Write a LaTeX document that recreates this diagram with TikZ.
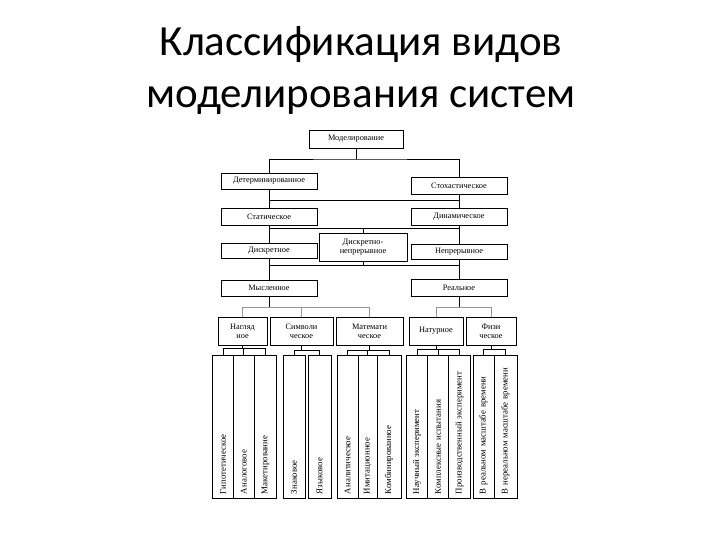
\documentclass[tikz,border=0pt]{standalone}
\usepackage{fontspec}
\setmainfont{Carlito}
\newfontfamily\boxfont{Liberation Serif}
\usetikzlibrary{positioning,calc}
\definecolor{linegray}{RGB}{150,150,150}
\tikzset{
  blk/.style={draw, line width=0.8pt, inner sep=1pt, align=center,
    font=\boxfont\fontsize{8.3}{9.3}\selectfont},
  tallbox/.style={draw, line width=0.8pt, rotate=90, minimum width=143pt,
    text width=135pt, inner xsep=4pt, inner ysep=0pt, align=left,
    font=\boxfont\fontsize{8.8}{9.5}\selectfont},
  wire/.style={line width=0.8pt},
  thinwire/.style={line width=0.7pt, linegray}
}
\begin{document}
\begin{tikzpicture}[x=1pt,y=-1pt]
\useasboundingbox (0,0) rectangle (720,540);
\node[font=\fontsize{43}{52}\selectfont, align=center] (title) at (361,71)
  {Классификация видов\\моделирования систем};

\node[blk, minimum width=94pt, minimum height=18pt] (model) at (356,139) {Моделирование};
\node[blk, minimum width=96pt, minimum height=16pt] (det) at (269,181) {Детерминированное};
\node[blk, minimum width=96pt, minimum height=17pt] (sto) at (459,185.5) {Стохастическое};
\node[blk, minimum width=96pt, minimum height=17pt] (stat) at (269,216.5) {Статическое};
\node[blk, minimum width=96pt, minimum height=17pt] (dyn) at (459,216.5) {Динамическое};
\node[blk, minimum width=96pt, minimum height=15pt] (disc) at (269,250.5) {Дискретное};
\node[blk, minimum width=88pt, minimum height=28pt] (dn) at (363,247) {Дискретно-\\непрерывное};
\node[blk, minimum width=96pt, minimum height=15pt] (cont) at (459,251.5) {Непрерывное};
\node[blk, minimum width=96pt, minimum height=16pt] (ment) at (269,288) {Мысленное};
\node[blk, minimum width=96pt, minimum height=17pt] (real) at (459,287.5) {Реальное};

\node[blk, minimum width=49pt, minimum height=28pt] (vis) at (242.5,331) {Нагляд\\ное};
\node[blk, minimum width=63pt, minimum height=28pt] (sym) at (301.5,331) {Символи\\ческое};
\node[blk, minimum width=67pt, minimum height=28pt] (math) at (369.5,331) {Математи\\ческое};
\node[blk, minimum width=54pt, minimum height=28pt] (nat) at (436,331) {Натурное};
\node[blk, minimum width=50pt, minimum height=28pt] (phys) at (491,331) {Физи\\ческое};

% vertical columns
\node[tallbox, minimum height=20.6pt] (hyp) at (223,426.5) {Гипотетическое};
\node[tallbox, minimum height=21pt] (anl) at (243.8,426.5) {Аналоговое};
\node[tallbox, minimum height=22.4pt] (mak) at (265.5,426.5) {Макетирование};
\node[tallbox, minimum height=22pt] (sign) at (294,426.5) {Знаковое};
\node[tallbox, minimum height=23pt] (lang) at (319.5,426.5) {Языковое};
\node[tallbox, minimum height=21pt] (analyt) at (347.5,426.5) {Аналитическое};
\node[tallbox, minimum height=19pt] (imit) at (367.5,426.5) {Имитационное};
\node[tallbox, minimum height=24pt] (comb) at (389,426.5) {Комбинированное};
\node[tallbox, minimum height=21pt] (sci) at (417,426.5) {Научный эксперимент};
\node[tallbox, minimum height=21pt] (cmpl) at (438,426.5) {Комплексные испытания};
\node[tallbox, minimum height=22pt] (prod) at (459.5,426.5) {Производственный эксперимент};
\node[tallbox, minimum height=21pt] (rt) at (483.5,426.5) {В реальном масштабе времени};
\node[tallbox, minimum height=23pt] (nrt) at (505.5,426.5) {В нереальном масштабе времени};

\coordinate (mtop) at (356,159);
\coordinate (r1) at (269,228);
\coordinate (r2) at (459,228);
\coordinate (r3) at (269,265);
\coordinate (r4) at (459,265);

\draw[wire] (model.south) -- (mtop);
\draw[wire] (det.north) |- (mtop) -| (sto.north);
\draw[wire] (det) -- (stat);
\draw[wire] (sto) -- (dyn);
\draw[wire] ($(stat.north)+(0,-7)$) -- ($(dyn.north)+(0,-7)$);
\draw[wire] (stat) -- (disc);
\draw[wire] (dyn) -- (cont);
\draw[wire] (r1) -- (r2);
\draw[wire] (dn.north) -- (dn.north |- r1);
\draw[wire] (r3) -- (r4);
\draw[wire] (dn.south) -- (dn.south |- r3);
\draw[wire] (disc) -- (ment);
\draw[wire] (cont) -- (real);

\draw[wire] (ment.south) -- ++(0,12);
\draw[thinwire] (vis.north) -- ++(0,-9) -| (math.north);
\draw[thinwire] (sym.north) -- ++(0,-9);
\draw[wire] (real.south) -- ++(0,12);
\draw[thinwire] (nat.north) -- ++(0,-9) -| (phys.north);

\draw[wire] (vis.south) -- ++(0,4);
\draw[wire] (hyp.east) -- ++(0,-6) -| (mak.east);
\draw[wire] (anl.east) -- ++(0,-6);
\draw[wire] (sym.south) -- ++(0,6);
\draw[wire] (sign.east) -- ++(0,-4) -| (lang.east);
\draw[wire] (math.south) -- ++(0,6);
\draw[wire] (analyt.east) -- ++(0,-4) -| (comb.east);
\draw[wire] (imit.east) -- ++(0,-4);
\draw[wire] (nat.south) -- ++(0,5);
\draw[wire] (sci.east) -- ++(0,-5) -| (prod.east);
\draw[wire] (cmpl.east) -- ++(0,-5);
\draw[wire] (phys.south) -- ++(0,5);
\draw[wire] (rt.east) -- ++(0,-5) -| (nrt.east);
\end{tikzpicture}
\end{document}
